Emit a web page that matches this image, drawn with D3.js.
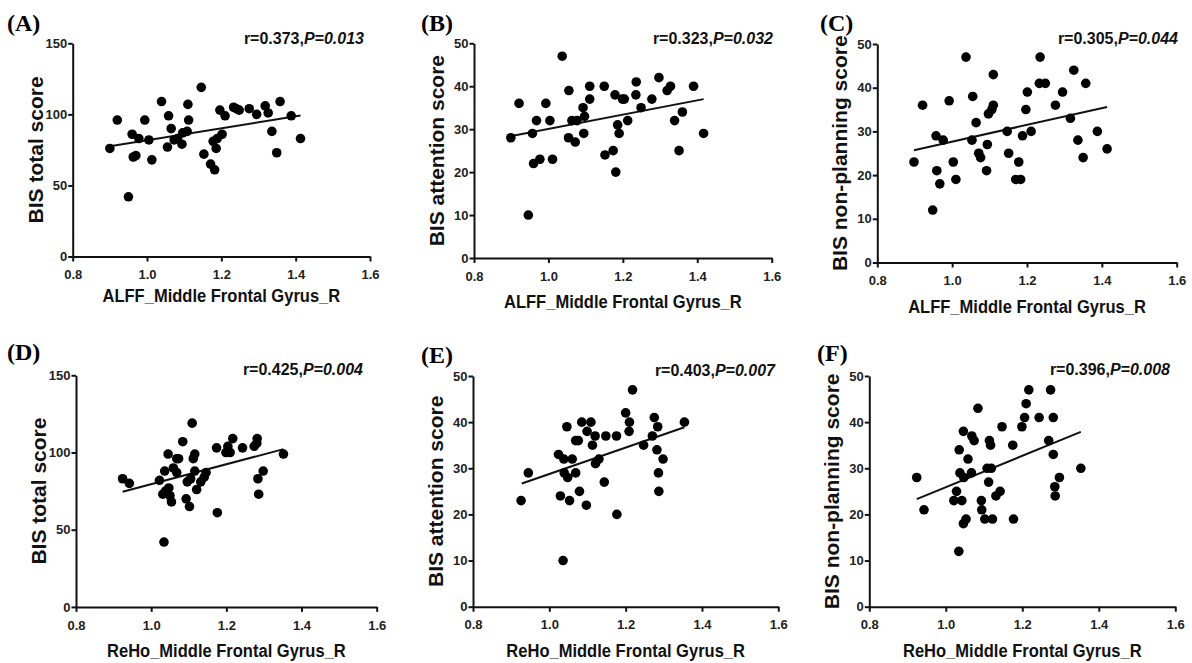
<!DOCTYPE html>
<html>
<head>
<meta charset="utf-8">
<script src="https://cdn.jsdelivr.net/npm/d3@7"></script>
<style>
	body { margin: 0; background: #fff; }
	svg text { font-family: "Liberation Sans", Arial, sans-serif; font-weight: bold; }
</style>
</head>
<body>
<svg id="chart" width="1192" height="663"></svg>
<script>
// tick labels
var xTicks = [0.8, 1.0, 1.2, 1.4, 1.6];
var yTicksTotal = [0, 50, 100, 150];
var yTicksSub = [0, 10, 20, 30, 40, 50];

// (A) ALFF vs BIS total
var pointsA = [[0.90,76],[0.92,96],[0.95,42],[0.96,86],[0.963,70],[0.97,71],[0.978,83],[0.994,96],[1.005,82],[1.013,68],
	[1.039,109],[1.058,99],[1.055,77],[1.065,90],[1.073,82],[1.082,83],[1.094,79],[1.096,87],[1.108,88],[1.11,107],
	[1.112,96],[1.146,119],[1.153,72],[1.171,65],[1.182,61],[1.178,81],[1.186,76],[1.189,83],[1.202,86],[1.196,103],
	[1.21,99],[1.233,105],[1.24,104],[1.248,103],[1.275,104],[1.295,100],[1.318,106],[1.326,101],[1.336,88],[1.349,73],
	[1.358,109],[1.388,99],[1.413,83]];
var fitA = [[0.90,77.6],[1.413,99.2]];

// (B) ALFF vs BIS attention
var pointsB = [[0.899,28],[0.921,36],[0.946,10],[0.957,29],[0.96,22],[0.968,32],[0.977,23],[0.993,36],[1.004,32],[1.011,23],
	[1.037,47],[1.055,39],[1.054,28],[1.063,32],[1.072,27],[1.077,32],[1.093,35],[1.097,33],[1.095,29],[1.111,37],
	[1.111,40],[1.15,40],[1.152,24],[1.174,25],[1.179,38],[1.186,31],[1.181,20],[1.19,29],[1.199,37],[1.204,37],
	[1.213,32],[1.236,41],[1.235,38],[1.249,35],[1.278,37],[1.297,42],[1.319,39],[1.328,40],[1.339,32],[1.351,25],
	[1.36,34],[1.39,40],[1.417,29]];
var fitB = [[0.894,28.3],[1.417,37.0]];

// (C) ALFF vs BIS non-planning
var pointsC = [[0.898,23],[0.921,36],[0.948,12],[0.957,29],[0.959,21],[0.967,18],[0.976,28],[0.992,37],[1.003,23],[1.01,19],
	[1.037,47],[1.053,28],[1.055,38],[1.064,32],[1.071,25],[1.076,24],[1.094,27],[1.092,21],[1.097,34],[1.106,35],
	[1.11,36],[1.11,43],[1.147,30],[1.151,25],[1.17,19],[1.178,23],[1.183,19],[1.188,29],[1.197,35],[1.201,39],
	[1.211,30],[1.235,47],[1.233,41],[1.249,41],[1.276,36],[1.295,39],[1.316,33],[1.325,44],[1.336,28],[1.35,24],
	[1.357,41],[1.388,30],[1.414,26]];
var fitC = [[0.898,25.7],[1.414,35.6]];

// (D) ReHo vs BIS total
var pointsD = [[0.924,83],[0.942,80],[1.022,82],[1.031,73],[1.034,42],[1.036,88],[1.038,75],[1.045,99],[1.047,77],[1.05,72],
	[1.054,68],[1.059,90],[1.068,96],[1.073,96],[1.068,87],[1.084,107],[1.093,70],[1.096,81],[1.102,65],[1.109,119],
	[1.112,96],[1.116,99],[1.116,88],[1.121,76],[1.105,83],[1.132,81],[1.141,84],[1.146,87],[1.174,103],[1.176,61],
	[1.199,100],[1.204,104],[1.21,100],[1.217,109],[1.243,103],[1.274,104],[1.281,106],[1.282,109],[1.284,83],[1.286,73],
	[1.298,88],[1.352,99]];
var fitD = [[0.924,74.6],[1.352,102.2]];

// (E) ReHo vs BIS attention
var pointsE = [[0.926,23],[0.945,29],[1.024,33],[1.029,24],[1.036,10],[1.038,32],[1.039,29],[1.046,39],[1.048,28],[1.053,23],
	[1.06,32],[1.069,29],[1.069,36],[1.076,36],[1.079,25],[1.085,40],[1.097,22],[1.099,38],[1.109,40],[1.113,35],
	[1.12,37],[1.121,31],[1.13,32],[1.144,27],[1.148,37],[1.176,37],[1.177,20],[1.2,42],[1.21,40],[1.209,38],
	[1.218,47],[1.247,35],[1.27,37],[1.275,41],[1.282,34],[1.284,39],[1.286,29],[1.287,25],[1.298,32],[1.354,40]];
var fitE = [[0.928,26.7],[1.354,38.9]];

// (F) ReHo vs BIS non-planning
var pointsF = [[0.924,28],[0.943,21],[1.028,25],[1.021,23],[1.034,12],[1.035,34],[1.037,29],[1.042,23],[1.046,38],[1.046,18],
	[1.047,28],[1.053,19],[1.058,32],[1.067,29],[1.068,37],[1.074,36],[1.084,43],[1.093,23],[1.094,21],[1.102,19],
	[1.108,30],[1.112,27],[1.114,36],[1.117,35],[1.119,30],[1.122,19],[1.131,24],[1.142,25],[1.147,39],[1.175,35],
	[1.177,19],[1.199,39],[1.206,41],[1.21,44],[1.217,47],[1.244,41],[1.269,36],[1.274,47],[1.281,41],[1.281,33],
	[1.285,26],[1.286,24],[1.297,28],[1.353,30]];
var fitF = [[0.924,23.3],[1.353,37.9]];

var panels = [
	{ tag: "(A)", points: pointsA, fit: fitA, yMax: 150, yTicks: yTicksTotal, yTitle: "BIS total score", xTitle: "ALFF_Middle Frontal Gyrus_R",
		r: "0.373", p: "0.013", left: 72.7, right: 370, top: 43.3, bottom: 256.5, statX: 364, statY: 44, tagX: 7, tagY: 31, xTitleDy: 45 },
	{ tag: "(B)", points: pointsB, fit: fitB, yMax: 50, yTicks: yTicksSub, yTitle: "BIS attention score", xTitle: "ALFF_Middle Frontal Gyrus_R",
		r: "0.323", p: "0.032", left: 474, right: 771.7, top: 43.3, bottom: 258, statX: 773, statY: 44, tagX: 421, tagY: 31, xTitleDy: 49.5 },
	{ tag: "(C)", points: pointsC, fit: fitC, yMax: 50, yTicks: yTicksSub, yTitle: "BIS non-planning score", xTitle: "ALFF_Middle Frontal Gyrus_R",
		r: "0.305", p: "0.044", left: 877.3, right: 1176.7, top: 44, bottom: 262.5, statX: 1178, statY: 44, tagX: 820, tagY: 31, xTitleDy: 50 },
	{ tag: "(D)", points: pointsD, fit: fitD, yMax: 150, yTicks: yTicksTotal, yTitle: "BIS total score", xTitle: "ReHo_Middle Frontal Gyrus_R",
		r: "0.425", p: "0.004", left: 76, right: 376.7, top: 375.3, bottom: 606.9, statX: 363, statY: 375, tagX: 7, tagY: 360, xTitleDy: 50 },
	{ tag: "(E)", points: pointsE, fit: fitE, yMax: 50, yTicks: yTicksSub, yTitle: "BIS attention score", xTitle: "ReHo_Middle Frontal Gyrus_R",
		r: "0.403", p: "0.007", left: 473, right: 778.3, top: 376, bottom: 606.7, statX: 775, statY: 376, tagX: 421, tagY: 363, xTitleDy: 50 },
	{ tag: "(F)", points: pointsF, fit: fitF, yMax: 50, yTicks: yTicksSub, yTitle: "BIS non-planning score", xTitle: "ReHo_Middle Frontal Gyrus_R",
		r: "0.396", p: "0.008", left: 869.3, right: 1175.3, top: 376, bottom: 606.7, statX: 1170, statY: 375, tagX: 817, tagY: 361, xTitleDy: 50 }
];

var svg = d3.select("#chart");

function styleAxis(sel) {
	sel.attr("font-family", null).attr("font-size", null);
	sel.select(".domain").attr("stroke", "#111").attr("stroke-width", 2);
	sel.selectAll(".tick line").attr("stroke", "#111").attr("stroke-width", 2);
	sel.selectAll(".tick text").style("font-size", "13px").attr("fill", "#222");
}

function renderPanel(p) {
	var x = d3.scaleLinear().domain([0.8, 1.6]).range([p.left, p.right]);
	var y = d3.scaleLinear().domain([0, p.yMax]).range([p.bottom, p.top]);
	var g = svg.append("g");

	var xAxis = d3.axisBottom(x).tickValues(xTicks).tickFormat(d3.format(".1f"))
		.tickSize(5).tickSizeOuter(0).tickPadding(8.5);
	var yAxis = d3.axisLeft(y).tickValues(p.yTicks).tickSize(4.5).tickSizeOuter(0).tickPadding(1);

	g.append("g").attr("transform", "translate(0," + p.bottom + ")").call(xAxis).call(styleAxis);
	g.append("g").attr("transform", "translate(" + p.left + ",0)").call(yAxis).call(styleAxis);

	// regression line
	g.append("line")
		.attr("x1", x(p.fit[0][0])).attr("y1", y(p.fit[0][1]))
		.attr("x2", x(p.fit[1][0])).attr("y2", y(p.fit[1][1]))
		.attr("stroke", "#111").attr("stroke-width", 2);

	// dots
	g.selectAll(".dot")
		.data(p.points)
		.enter()
		.append("circle")
		.attr("class", "dot")
		.attr("cx", function(d) { return x(d[0]); })
		.attr("cy", function(d) { return y(d[1]); })
		.attr("r", 4.8)
		.attr("fill", "#000");

	// titles
	g.append("text")
		.attr("transform", "translate(" + (p.left - 30) + "," + ((p.top + p.bottom) / 2) + ") rotate(-90)")
		.attr("text-anchor", "middle")
		.style("font-size", "21px")
		.attr("fill", "#111")
		.text(p.yTitle);
	// figure looks squeezed sideways, so the x title is narrowed a little
	g.append("text")
		.attr("transform", "translate(" + ((p.left + p.right) / 2) + "," + (p.bottom + p.xTitleDy) + ") scale(0.87,1)")
		.attr("text-anchor", "middle")
		.style("font-size", "19px")
		.attr("fill", "#111")
		.text(p.xTitle);

	var stat = g.append("text")
		.attr("x", p.statX).attr("y", p.statY)
		.attr("text-anchor", "end")
		.style("font-size", "16px")
		.attr("fill", "#111");
	stat.append("tspan").text("r=" + p.r + ",");
	stat.append("tspan").style("font-style", "italic").text("P=" + p.p);

	g.append("text")
		.attr("x", p.tagX).attr("y", p.tagY)
		.style("font-family", "'Liberation Serif', 'Times New Roman', serif")
		.style("font-size", "24px")
		.attr("fill", "#000")
		.text(p.tag);
}

panels.forEach(renderPanel);
</script>
</body>
</html>
